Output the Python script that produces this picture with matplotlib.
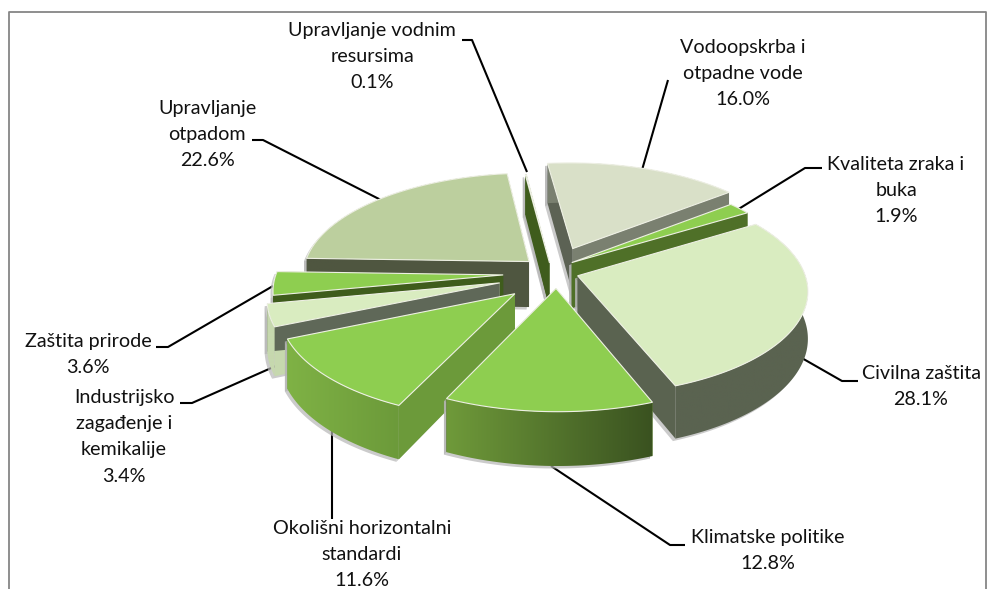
import numpy as np
import matplotlib
matplotlib.use('Agg')
import matplotlib.pyplot as plt
from matplotlib.patches import Polygon

# Chart data #
##############

categories = ['Vodoopskrba i\notpadne vode', 'Kvaliteta zraka i\nbuka', 'Civilna zaštita',
              'Klimatske politike', 'Okolišni horizontalni\nstandardi',
              'Industrijsko\nzagađenje i\nkemikalije', 'Zaštita prirode',
              'Upravljanje\notpadom', 'Upravljanje vodnim\nresursima']
shares = [16.0, 1.9, 28.1, 12.8, 11.6, 3.4, 3.6, 22.6, 0.1]

# Slice styling (same order as categories) #
############################################

explode = [0.25, 0.14, 0.154, 0.183, 0.26, 0.233, 0.19, 0.11, 0.072]
explode_turn = [8, 4, 3, -17, -16, -15, -10, 7, 23]
top_colors = ['#d9e0c8', '#8ece50', '#d9ecc0', '#8ece50', '#8ece50',
              '#d9ecc0', '#8ece50', '#bccf9e', '#3f5f1e']
start_wall = ['#5c6254', '#4f7028', '#5a6350', '#6f9a3a', '#6c9a3a',
              '#c6d8ae', '#3f5c1c', '#4f5640', '#3f5c1c']
end_wall = ['#7a8070', '#4f7028', '#5a6350', '#3a5220', '#6c9a3a',
            '#5f6858', '#3f5c1c', '#4f5640', '#3f5c1c']
arc_wall = [('#7a8070', '#7a8070'), ('#4f7028', '#4f7028'), ('#5a6350', '#5a6350'),
            ('#6f9a3a', '#3a5220'), ('#7fb245', '#6c9a3a'), ('#c6d8ae', '#c6d8ae'),
            ('#3f5c1c', '#3f5c1c'), ('#4f5640', '#4f5640'), ('#3f5c1c', '#3f5c1c')]
draw_order = [7, 8, 0, 1, 2, 6, 5, 4, 3]

# Label anchors and leader lines, in picture pixels #
#####################################################

label_pos = [(743, 47), (896, 164), (921, 373), (768, 537), (362, 528),
             (124, 397), (88, 341), (207, 108), (372, 30)]
leaders = [[(668, 80), (642, 170)],
           [(822, 168), (805, 168), (737, 210)],
           [(858, 381), (842, 381), (800, 357)],
           [(685, 545), (670, 545), (551, 466)],
           [(332, 519), (332, 430)],
           [(180, 403), (192, 403), (278, 365)],
           [(156, 347), (168, 347), (273, 286)],
           [(252, 140), (263, 140), (381, 200)],
           [(462, 40), (472, 40), (527, 172)]]

# Projection of the pie disk #
##############################

CX, CY = 545, 270
RX, RY = 226, 102
PERSP = 0.13
DEPTH = 46
START_ANGLE = -6.5


def project(u, v):
    s = 1 / (1 - PERSP * v)
    return CX + RX * u * s, CY + RY * v * s, s


def slice_outline(a0, a1, off, turn):
    # returns apex and arc points of one slice, top face and bottom face
    angles = np.radians(np.linspace(a0, a1, max(int(a1 - a0), 2) + 1))
    mid = np.radians((a0 + a1) / 2 + turn)
    ou, ov = off * np.sin(mid), -off * np.cos(mid)
    us = np.r_[ou, ou + np.sin(angles)]
    vs = np.r_[ov, ov - np.cos(angles)]
    x, y, s = project(us, vs)
    return np.c_[x, y], np.c_[x, y + DEPTH * s]


def gradient_poly(ax, pts, c0, c1, zorder):
    # horizontal gradient clipped to a polygon
    cmap = matplotlib.colors.LinearSegmentedColormap.from_list('g', [c0, c1])
    x0, x1 = pts[:, 0].min(), pts[:, 0].max()
    y0, y1 = pts[:, 1].min(), pts[:, 1].max()
    im = ax.imshow(np.linspace(0, 1, 128)[None, :], cmap=cmap, aspect='auto',
                   extent=(x0, x1, y1, y0), zorder=zorder)
    patch = Polygon(pts, closed=True, transform=ax.transData, fc='none', ec='none')
    ax.add_patch(patch)
    im.set_clip_path(patch)


plt.rcParams['font.family'] = ['Lato', 'DejaVu Sans']

fig = plt.figure(figsize=(9.88, 5.89), dpi=100)
ax = fig.add_axes([0, 0, 1, 1])
ax.set_xlim(0, 988)
ax.set_ylim(589, 0)
ax.axis('off')

# Chart frame
ax.plot([9, 9, 986, 986], [589, 12, 12, 589], color='#868686', lw=1.3, zorder=1)

# Leader lines
for pts in leaders:
    xs, ys = zip(*pts)
    ax.plot(xs, ys, color='black', lw=1.5, zorder=2, solid_capstyle='butt')

# Pie slices, back to front
edges = np.r_[0, np.cumsum(shares)] / sum(shares) * 360 + START_ANGLE
z = 3
for i in draw_order:
    top, bottom = slice_outline(edges[i], edges[i + 1], explode[i], explode_turn[i])
    apex_t, apex_b = top[0], bottom[0]
    arc_t, arc_b = top[1:], bottom[1:]

    arc_poly = np.r_[arc_t, arc_b[::-1]]
    start_poly = np.array([apex_t, arc_t[0], arc_b[0], apex_b])
    end_poly = np.array([apex_t, arc_t[-1], arc_b[-1], apex_b])

    # soft shadow under the walls
    for poly in (arc_poly, start_poly, end_poly):
        ax.add_patch(Polygon(poly + [-2.5, 2.5], closed=True, fc='#b5b5b5', ec='none', alpha=0.7, zorder=z))
    z += 1

    ax.add_patch(Polygon(start_poly, closed=True, fc=start_wall[i], ec='none', zorder=z))
    ax.add_patch(Polygon(end_poly, closed=True, fc=end_wall[i], ec='none', zorder=z))
    z += 1
    gradient_poly(ax, arc_poly, arc_wall[i][0], arc_wall[i][1], z)
    z += 1
    ax.add_patch(Polygon(top, closed=True, fc=top_colors[i], ec='#eef0e4', lw=0.8, zorder=z))
    z += 1

ax.set_xlim(0, 988)
ax.set_ylim(589, 0)

# Labels
for name, share, (x, y) in zip(categories, shares, label_pos):
    ax.text(x, y - 8, f'{name}\n{share:.1f}%', ha='center', va='top', fontsize=14.2,
            linespacing=1.66, color='#111111', zorder=200)

fig.savefig('out.png', dpi=100)
